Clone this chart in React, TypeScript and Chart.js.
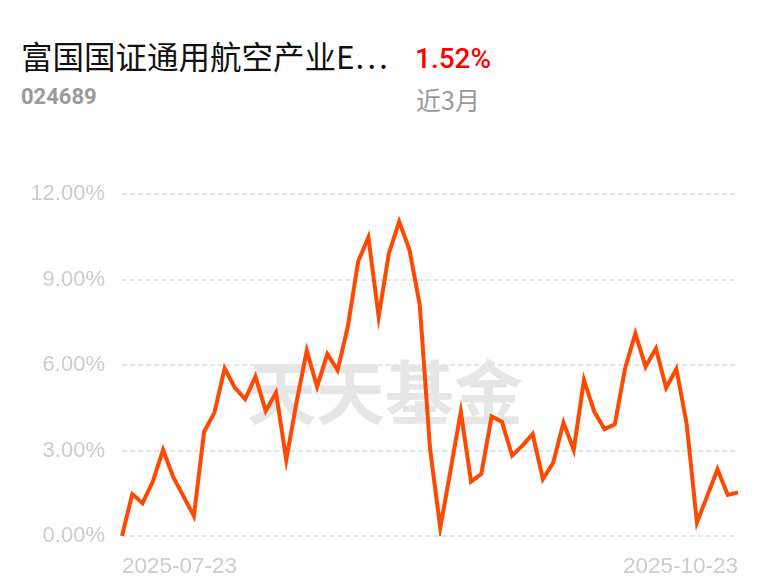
import React, { useEffect, useRef } from "react";
import { Chart, registerables } from "chart.js";

Chart.register(...registerables);

const titleText = "富国国证通用航空产业E…";
const fundCode = "024689";
const periodReturn = "1.52%";
const periodLabel = "近3月";
const watermark = "天天基金";

const dates = [
  "2025-07-23", "2025-07-24", "2025-07-25", "2025-07-28", "2025-07-29", "2025-07-30", "2025-07-31",
  "2025-08-01", "2025-08-04", "2025-08-05", "2025-08-06", "2025-08-07", "2025-08-08",
  "2025-08-11", "2025-08-12", "2025-08-13", "2025-08-14", "2025-08-15",
  "2025-08-18", "2025-08-19", "2025-08-20", "2025-08-21", "2025-08-22",
  "2025-08-25", "2025-08-26", "2025-08-27", "2025-08-28", "2025-08-29",
  "2025-09-01", "2025-09-02", "2025-09-03", "2025-09-04", "2025-09-05",
  "2025-09-08", "2025-09-09", "2025-09-10", "2025-09-11", "2025-09-12",
  "2025-09-15", "2025-09-16", "2025-09-17", "2025-09-18", "2025-09-19",
  "2025-09-22", "2025-09-23", "2025-09-24", "2025-09-25", "2025-09-26",
  "2025-09-29", "2025-09-30",
  "2025-10-09", "2025-10-10",
  "2025-10-13", "2025-10-14", "2025-10-15", "2025-10-16", "2025-10-17",
  "2025-10-20", "2025-10-21", "2025-10-22", "2025-10-23",
];

const returns = [
  0.0, 1.47, 1.15, 1.91, 3.02, 2.06, 1.38, 0.7, 3.66, 4.33,
  5.88, 5.2, 4.8, 5.59, 4.39, 5.03, 2.67, 4.7, 6.5, 5.24,
  6.39, 5.82, 7.35, 9.63, 10.48, 7.7, 9.92, 11.03, 10.04, 8.11,
  3.08, 0.29, 2.3, 4.36, 1.91, 2.18, 4.19, 4.01, 2.82, 3.17,
  3.58, 2.0, 2.57, 3.98, 3.02, 5.47, 4.36, 3.75, 3.92, 5.88,
  7.11, 5.94, 6.58, 5.2, 5.86, 3.93, 0.47, 1.4, 2.34, 1.44,
  1.53,
];

const yMin = 0;
const yMax = 12;
const yStep = 3;

const watermarkPlugin = {
  id: "watermark",
  beforeDatasetsDraw(chart: any) {
    const ctx = chart.ctx;
    ctx.save();
    ctx.font = 'bold 69px "Noto Sans CJK SC"';
    ctx.fillStyle = "#e6e6e6";
    ctx.textAlign = "center";
    ctx.textBaseline = "middle";
    ctx.fillText(watermark, 385, 243);
    ctx.restore();
  },
};

export default function App() {
  const canvasRef = useRef<HTMLCanvasElement | null>(null);

  useEffect(() => {
    if (!canvasRef.current) return;
    const tickFont = { family: '"Liberation Sans", Arial, sans-serif', size: 22 };
    const chart = new Chart(canvasRef.current, {
      type: "line",
      data: {
        labels: dates,
        datasets: [
          {
            data: returns,
            borderColor: "#ff4800",
            borderWidth: 4,
            pointRadius: 0,
            tension: 0,
            fill: false,
          },
        ],
      },
      options: {
        animation: false,
        responsive: false,
        maintainAspectRatio: false,
        layout: { padding: { top: 44, right: 30, left: 0, bottom: 0 } },
        plugins: { legend: { display: false }, tooltip: { enabled: false } },
        scales: {
          x: {
            type: "category",
            offset: false,
            grid: { display: false, drawTicks: false },
            border: { display: false },
            ticks: {
              autoSkip: false,
              maxRotation: 0,
              align: "inner",
              padding: 17,
              color: "#cccccc",
              font: { family: '"Liberation Sans", Arial, sans-serif', size: 22.5 },
              callback: (_v: any, i: number, t: any[]) =>
                i === 0 || i === t.length - 1 ? dates[i] : "",
            },
            afterFit: (s: any) => {
              s.height = 51;
            },
          },
          y: {
            min: yMin,
            max: yMax,
            grid: { color: "#e6e6e6", lineWidth: 2, drawTicks: false },
            border: { display: false, dash: [5, 3] },
            ticks: {
              stepSize: yStep,
              padding: 17,
              color: "#cccccc",
              font: tickFont,
              callback: (v: any) => Number(v).toFixed(2) + "%",
            },
            afterFit: (s: any) => {
              s.width = 122;
            },
          },
        },
      } as any,
      plugins: [watermarkPlugin],
    });
    return () => chart.destroy();
  }, []);

  const abs = (o: React.CSSProperties): React.CSSProperties => ({
    position: "absolute",
    whiteSpace: "nowrap",
    margin: 0,
    ...o,
  });

  return (
    <div
      style={{
        position: "fixed",
        left: 0,
        top: 0,
        width: 768,
        height: 587,
        background: "#ffffff",
        overflow: "hidden",
      }}
    >
      <div
        style={abs({
          left: 21,
          top: 39,
          fontFamily: '"Noto Sans CJK SC", sans-serif',
          fontSize: 31.5,
          lineHeight: "32px",
          color: "#111111",
        })}
      >
        {titleText}
      </div>
      <div
        style={abs({
          left: 21,
          top: 86,
          fontFamily: "Roboto, sans-serif",
          fontWeight: 700,
          fontSize: 22,
          lineHeight: "22px",
          color: "#9a9a9a",
        })}
      >
        {fundCode}
      </div>
      <div
        style={abs({
          left: 415,
          top: 44,
          fontFamily: "Roboto, sans-serif",
          fontWeight: 500,
          fontSize: 28,
          lineHeight: "29px",
          color: "#ff0000",
        })}
      >
        {periodReturn}
      </div>
      <div
        style={abs({
          left: 416,
          top: 87,
          fontFamily: '"Noto Sans CJK SC", sans-serif',
          fontSize: 25,
          lineHeight: "25px",
          color: "#999999",
        })}
      >
        {periodLabel}
      </div>
      <canvas
        ref={canvasRef}
        width={768}
        height={437}
        style={{ position: "absolute", left: 0, top: 150, width: 768, height: 437 }}
      />
    </div>
  );
}
